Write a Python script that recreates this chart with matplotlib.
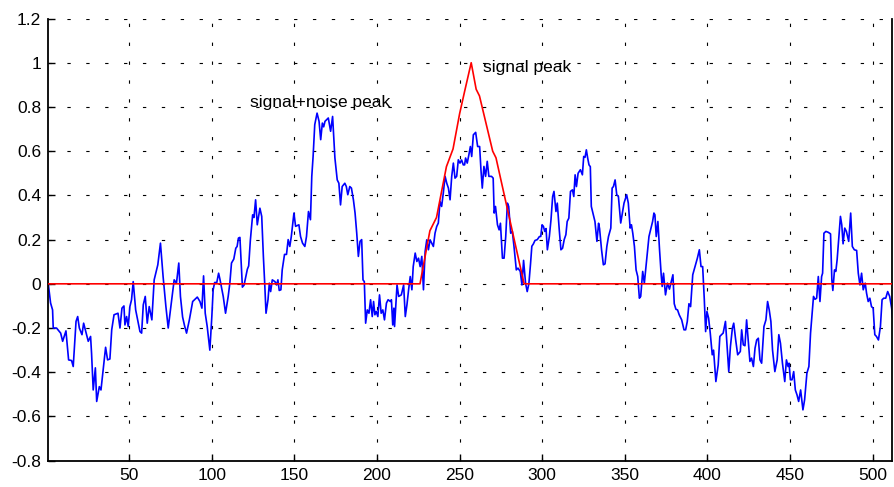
import matplotlib
matplotlib.use("Agg")
import matplotlib.pyplot as plt

# noisy signal (sample index, value)
noise_x = [1, 2.4, 3.6, 4, 6, 8.5, 9.7, 11.7, 13.3, 15.1, 16.1, 17.8, 18.8, 19.8, 21.4, 22.4,
           25.2, 26.6, 27.2, 28.2, 29.5, 30.3, 31.9, 32.9, 33.9, 35.7, 36.9, 38.3, 39.4, 40.8,
           43.2, 44.4, 45.6, 46.8, 47.4, 48.4, 49.4, 50.4, 51.4, 52.4, 53.9, 56.5, 57.5, 58.5,
           59.7, 60.9, 62.1, 63.7, 65.1, 67.3, 68.9, 70.5, 72.2, 73.6, 77.2, 78.6, 80.0, 81.0,
           82.3, 83.5, 84.7, 86.4, 88.4, 91.2, 92.8, 94.0, 95.0, 96.0, 97.2, 98.8, 100.0, 100.8,
           101.7, 103.0, 104.1, 104.9, 106.9, 108.3, 109.9, 110.9, 111.9, 113.3, 114.5, 115.3,
           116.1, 117.0, 118.5, 119.5, 121.5, 122.3, 123.3, 124.7, 125.5, 126.5, 127.5, 129.1,
           130.2, 131.2, 132.0, 132.8, 134.0, 134.8, 135.6, 136.6, 138.2, 139.2, 140.0, 140.8,
           141.8, 142.6, 144.0, 145.2, 146.2, 147.2, 148.1, 149.7, 150.7, 152.7, 153.7, 154.9,
           156.3, 157.3, 158.5, 159.7, 160.5, 161.3, 162.3, 163.7, 164.9, 165.9, 166.9, 167.7,
           168.5, 170.5, 171.9, 173.1, 174.5, 175.9, 176.9, 177.9, 178.9, 180.5, 181.4, 182.3,
           183.5, 184.5, 185.7, 186.7, 187.7, 188.7, 189.7, 190.7, 191.5, 192.3, 193.1, 194.1,
           195.1, 196.1, 197.1, 197.9, 198.7, 199.5, 200.5, 201.5, 202.5, 203.5, 204.5, 205.7,
           206.7, 208.1, 208.7, 209.5, 210.2, 210.6, 212.1, 213.1, 214.7, 216.1, 217.1, 218.1,
           219.1, 220.1, 221.1, 221.9, 223.1, 224.1, 225.1, 226.1, 227.1, 228.1, 229.1, 230.1,
           231.1, 232.1, 233.1, 234.1, 235.1, 236.1, 237.1, 238.1, 239.1, 240.1, 241.2, 242.2,
           243.2, 244.2, 245.2, 246.2, 247.2, 248.2, 249.2, 250.2, 251.2, 252.2, 253.0, 253.6,
           254.6, 255.6, 256.5, 257.3, 258.3, 259.7, 260.9, 262.1, 262.9, 263.7, 264.7, 265.7,
           266.7, 267.7, 269.3, 270.3, 270.9, 271.7, 272.9, 273.9, 274.7, 275.9, 276.9, 277.9,
           278.9, 279.7, 280.9, 281.9, 282.9, 284.3, 285.3, 286.7, 287.7, 288.7, 289.9, 290.9,
           291.9, 292.9, 293.7, 294.6, 295.6, 297.0, 298.3, 299.1, 299.9, 300.7, 301.5, 302.3,
           303.1, 304.3, 305.3, 306.3, 307.1, 308.3, 309.1, 310.3, 311.3, 312.3, 313.3, 314.3,
           315.1, 316.1, 317.1, 318.3, 319.1, 319.9, 320.7, 321.7, 323.1, 324.3, 325.1, 325.9,
           326.7, 327.5, 328.3, 329.1, 329.7, 330.7, 331.9, 333.1, 334.1, 334.7, 335.9, 337.0,
           338.0, 339.1, 340.1, 341.5, 342.3, 343.1, 344.1, 345.1, 346.1, 347.5, 348.5, 349.5,
           351.1, 352.1, 353.2, 354.0, 354.8, 355.8, 356.8, 357.8, 358.8, 359.6, 360.8, 361.8,
           363.2, 364.6, 365.8, 366.8, 367.6, 368.2, 369.0, 370.0, 371.0, 372.0, 372.6, 373.4,
           374.6, 375.8, 377.0, 378.4, 379.1, 379.9, 380.9, 381.9, 382.9, 384.4, 385.8, 386.8,
           387.8, 388.8, 389.8, 391.1, 392.5, 393.9, 395.1, 396.1, 397.1, 398.1, 398.9, 399.7,
           400.7, 401.7, 402.9, 403.7, 405.1, 406.5, 407.5, 408.5, 409.5, 410.9, 411.9, 412.9,
           413.9, 415.1, 415.9, 417.1, 418.3, 419.9, 420.7, 421.7, 422.7, 423.7, 424.7, 425.7,
           426.7, 427.8, 428.8, 429.8, 430.8, 431.8, 432.8, 434.2, 435.4, 436.4, 437.4, 438.4,
           439.4, 440.8, 442.2, 443.2, 444.2, 445.4, 446.8, 447.8, 448.8, 449.4, 450.2, 451.2,
           452.2, 453.2, 454.2, 455.2, 456.4, 457.8, 458.8, 460.2, 461.4, 462.4, 463.4, 464.2,
           465.1, 466.1, 467.1, 468.1, 469.1, 469.7, 470.5, 471.7, 473.1, 474.5, 475.3, 475.9,
           476.9, 477.7, 478.5, 479.7, 480.5, 481.3, 482.1, 483.1, 484.1, 485.5, 486.7, 487.7,
           488.9, 490.3, 491.3, 492.3, 493.3, 494.3, 495.5, 496.3, 497.3, 498.3, 499.3, 500.3,
           501.3, 502.3, 503.5, 504.7, 505.7, 506.7, 507.9, 509.1, 510.3, 511.5, 512]
noise_y = [0.0, -0.087, -0.118, -0.2, -0.2, -0.223, -0.26, -0.213, -0.344, -0.347, -0.374, -0.17,
           -0.148, -0.2, -0.23, -0.178, -0.26, -0.238, -0.314, -0.48, -0.38, -0.532, -0.465,
           -0.48, -0.41, -0.287, -0.344, -0.34, -0.208, -0.14, -0.133, -0.2, -0.11, -0.1, -0.186,
           -0.148, -0.193, -0.103, -0.072, 0.01, -0.118, -0.216, -0.223, -0.095, -0.057, -0.178,
           -0.103, -0.163, 0.018, 0.086, 0.184, 0.033, -0.103, -0.2, 0.018, 0.003, 0.094, -0.057,
           -0.15, -0.19, -0.223, -0.163, -0.08, -0.06, -0.08, -0.11, 0.036, -0.133, -0.193, -0.3,
           -0.148, -0.027, 0.006, 0.006, 0.048, 0.021, -0.057, -0.133, -0.057, 0.003, 0.094,
           0.112, 0.161, 0.169, 0.207, 0.21, -0.015, -0.006, 0.066, 0.081, 0.195, 0.312, 0.3,
           0.38, 0.267, 0.342, 0.305, 0.124, 0.003, -0.133, -0.072, 0.003, -0.035, 0.018, 0.01,
           -0.005, 0.018, -0.03, -0.027, 0.063, 0.133, 0.133, 0.2, 0.169, 0.214, 0.32, 0.26,
           0.267, 0.214, 0.184, 0.169, 0.214, 0.327, 0.29, 0.486, 0.576, 0.72, 0.772, 0.735,
           0.652, 0.727, 0.71, 0.735, 0.75, 0.69, 0.757, 0.569, 0.47, 0.455, 0.357, 0.44, 0.455,
           0.44, 0.403, 0.44, 0.433, 0.38, 0.32, 0.23, 0.124, 0.192, 0.2, 0.018, 0.01, -0.178,
           -0.118, -0.133, -0.072, -0.148, -0.08, -0.14, -0.125, -0.148, -0.05, -0.133, -0.118,
           -0.163, -0.087, -0.072, -0.08, -0.072, -0.186, -0.11, -0.193, -0.005, -0.057, -0.05,
           -0.005, -0.148, -0.095, -0.027, 0.033, -0.027, 0.078, 0.139, 0.101, 0.116, 0.078,
           0.124, -0.027, 0.146, 0.199, 0.154, 0.199, 0.184, 0.169, 0.229, 0.259, 0.275, 0.373,
           0.35, 0.41, 0.486, 0.455, 0.433, 0.38, 0.486, 0.546, 0.478, 0.486, 0.561, 0.546, 0.56,
           0.538, 0.538, 0.569, 0.546, 0.584, 0.621, 0.576, 0.674, 0.685, 0.621, 0.621, 0.516,
           0.433, 0.531, 0.486, 0.554, 0.486, 0.486, 0.478, 0.32, 0.35, 0.267, 0.244, 0.274,
           0.116, 0.116, 0.214, 0.365, 0.35, 0.229, 0.237, 0.169, 0.063, 0.071, 0.056, -0.005,
           0.106, 0.003, -0.035, 0.0, 0.09, 0.17, 0.18, 0.196, 0.2, 0.214, 0.214, 0.267, 0.26,
           0.237, 0.25, 0.154, 0.214, 0.29, 0.395, 0.418, 0.327, 0.365, 0.244, 0.154, 0.161, 0.2,
           0.222, 0.282, 0.297, 0.418, 0.425, 0.395, 0.493, 0.44, 0.5, 0.516, 0.493, 0.576,
           0.572, 0.606, 0.569, 0.538, 0.53, 0.35, 0.32, 0.282, 0.192, 0.274, 0.25, 0.154, 0.086,
           0.09, 0.169, 0.214, 0.252, 0.433, 0.44, 0.47, 0.403, 0.395, 0.275, 0.32, 0.365, 0.403,
           0.365, 0.252, 0.267, 0.229, 0.169, 0.063, 0.033, -0.065, -0.057, 0.056, 0.003, 0.109,
           0.214, 0.252, 0.282, 0.32, 0.312, 0.214, 0.282, 0.154, 0.041, -0.012, 0.048, -0.05,
           0.003, -0.024, 0.02, 0.041, -0.09, -0.115, -0.118, -0.14, -0.163, -0.208, -0.208,
           -0.17, -0.09, -0.103, 0.041, 0.078, 0.116, 0.154, 0.078, 0.078, -0.072, -0.216, -0.125,
           -0.155, -0.223, -0.321, -0.3, -0.442, -0.367, -0.238, -0.23, -0.223, -0.17, -0.284,
           -0.397, -0.284, -0.2, -0.178, -0.254, -0.321, -0.306, -0.208, -0.276, -0.28, -0.163,
           -0.254, -0.351, -0.336, -0.374, -0.291, -0.254, -0.246, -0.344, -0.359, -0.193, -0.163,
           -0.08, -0.118, -0.17, -0.3, -0.397, -0.344, -0.23, -0.269, -0.359, -0.442, -0.344,
           -0.374, -0.359, -0.434, -0.434, -0.397, -0.48, -0.502, -0.532, -0.48, -0.57, -0.525,
           -0.404, -0.374, -0.223, -0.133, -0.057, -0.07, -0.065, 0.033, -0.08, 0.033, 0.048,
           0.229, 0.237, 0.233, 0.226, 0.018, -0.03, 0.063, 0.056, 0.109, 0.229, 0.305, 0.267,
           0.181, 0.252, 0.237, 0.192, 0.32, 0.169, 0.154, 0.151, 0.048, -0.005, 0.048, -0.027,
           0.003, -0.042, -0.08, -0.065, -0.103, -0.11, -0.23, -0.238, -0.254, -0.193, -0.072,
           -0.065, -0.065, -0.035, -0.057, -0.11, -0.15]

# clean signal (triangle pulse)
signal_x = [1, 226, 232, 236, 242, 246, 250, 253, 257, 260, 262, 270, 272, 289, 512]
signal_y = [0, 0, 0.24, 0.30, 0.53, 0.61, 0.77, 0.87, 1.0, 0.88, 0.85, 0.60, 0.57, 0, 0]

xticks = [50, 100, 150, 200, 250, 300, 350, 400, 450, 500]
yticks = [-0.8, -0.6, -0.4, -0.2, 0, 0.2, 0.4, 0.6, 0.8, 1, 1.2]
ylabels = ['-0.8', '-0.6', '-0.4', '-0.2', '0', '0.2', '0.4', '0.6', '0.8', '1', '1.2']

plt.rcParams['font.family'] = ['Liberation Sans', 'DejaVu Sans']

fig = plt.figure(figsize=(8.94, 4.87), dpi=100)
ax = fig.add_axes([0.054, 0.054, 0.9443, 0.908])

ax.plot(noise_x, noise_y, color='#0000ff', lw=1.2, zorder=2)
ax.plot(signal_x, signal_y, color='#ff0000', lw=1.2, zorder=3)

ax.set_xlim(1, 512)
ax.set_ylim(-0.8, 1.2)
ax.set_xticks(xticks)
ax.set_yticks(yticks)
ax.set_yticklabels(ylabels)
ax.tick_params(direction='in', length=5, width=1, labelsize=12.5, pad=5)
ax.grid(True, color='black', linestyle=(0, (3, 14)), linewidth=0.8)
for s in ax.spines.values():
    s.set_linewidth(1.3)
ax.spines['top'].set_visible(False)

ax.text(264, 0.977, 'signal peak', fontsize=12.5, va='center', ha='left')
ax.text(123, 0.819, 'signal+noise peak', fontsize=12.5, va='center', ha='left')

fig.savefig('out.png', dpi=100)
